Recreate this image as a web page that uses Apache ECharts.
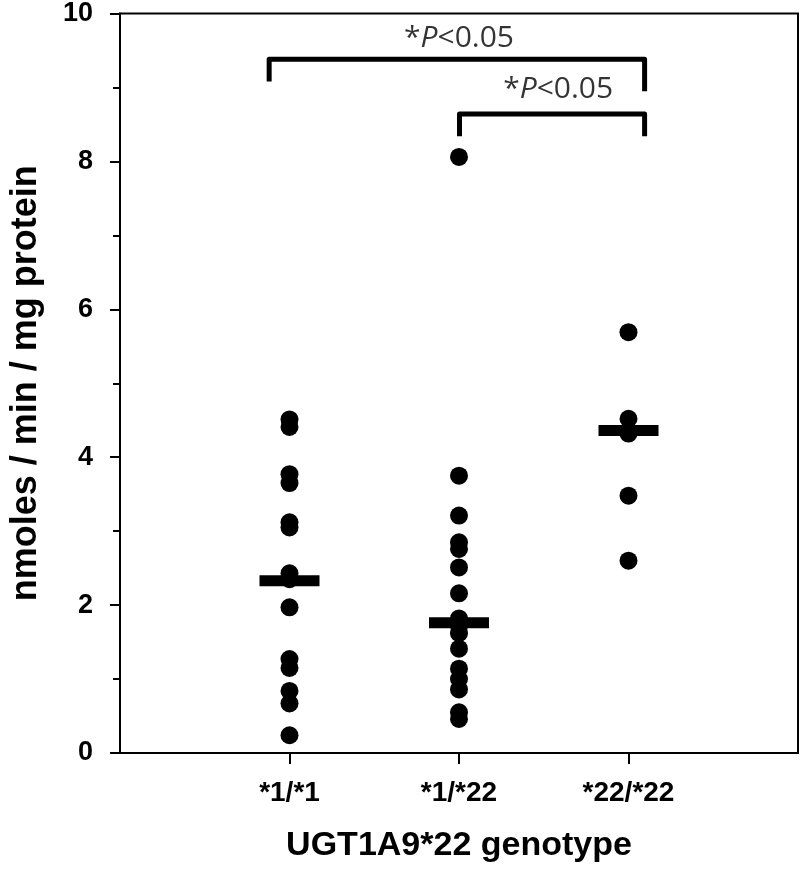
<!DOCTYPE html>
<html>
<head>
<meta charset="utf-8">
<script src="https://cdn.jsdelivr.net/npm/echarts@6/dist/echarts.min.js"></script>
<style>
  html, body { margin: 0; padding: 0; background: #fff; }
  #chart { width: 800px; height: 869px; }
</style>
</head>
<body>
<div id="chart"></div>
<script>
// genotype groups (x positions 1, 2, 3)
const genotypes = ['*1/*1', '*1/*22', '*22/*22'];

// individual activities, nmoles / min / mg protein
const wtValues = [4.51, 4.41, 3.77, 3.65, 3.12, 3.05, 2.43, 2.35, 1.97, 1.27, 1.15, 0.84, 0.67, 0.24];
const hetValues = [8.06, 3.75, 3.21, 2.85, 2.76, 2.51, 2.16, 1.82, 1.72, 1.62, 1.41, 1.14, 1.0, 0.86, 0.55, 0.46];
const homValues = [5.69, 4.52, 4.32, 3.48, 2.60];

// group medians (horizontal bars)
const medians = [2.33, 1.76, 4.36];

// significance brackets, in data units
const bracketOuter = [[0.88, 9.08], [0.88, 9.38], [3.095, 9.38], [3.095, 8.95]];
const bracketInner = [[2.003, 8.34], [2.003, 8.64], [3.095, 8.64], [3.095, 8.34]];
const sigLabels = [[2.0, 9.66], [2.585, 8.97]];

const axisFont = 'Liberation Sans, Arial, sans-serif';
const groups = [wtValues, hetValues, homValues];

const chart = echarts.init(document.getElementById('chart'));

const dotSeries = groups.map((vals, gi) => ({
    type: 'scatter',
    data: vals.map(v => [gi + 1, v]),
    symbol: 'circle',
    symbolSize: 18,
    itemStyle: { color: '#000', opacity: 1 },
    silent: true,
    z: 3
}));

const bracketStyle = {
    type: 'line',
    symbol: 'none',
    silent: true,
    lineStyle: { color: '#000', width: 5, join: 'round', cap: 'butt' },
    z: 4
};

const option = {
    backgroundColor: '#fff',
    animation: false,
    grid: {
        left: 117,
        right: 2,
        top: 11,
        bottom: 116,
        show: true,
        borderColor: '#000',
        borderWidth: 2,
        backgroundColor: 'transparent'
    },
    xAxis: {
        type: 'value',
        min: 0,
        max: 4,
        interval: 1,
        name: 'UGT1A9*22 genotype',
        nameLocation: 'middle',
        nameGap: 76,
        nameTextStyle: { color: '#000', fontSize: 34, fontWeight: 'bold', fontFamily: axisFont },
        axisLine: { lineStyle: { color: '#000', width: 2 } },
        axisTick: { show: true, customValues: [1, 2, 3], length: 11, lineStyle: { color: '#000', width: 2 } },
        axisLabel: {
            customValues: [1, 2, 3],
            formatter: v => genotypes[Math.round(v) - 1] || '',
            color: '#000',
            fontSize: 28,
            fontWeight: 'bold',
            fontFamily: axisFont,
            margin: 26
        },
        splitLine: { show: false }
    },
    yAxis: {
        type: 'value',
        min: 0,
        max: 10,
        interval: 2,
        name: 'nmoles / min / mg protein',
        nameLocation: 'middle',
        nameGap: 76,
        nameTextStyle: { color: '#000', fontSize: 36, fontWeight: 'bold', fontFamily: axisFont },
        axisLine: { show: true, lineStyle: { color: '#000', width: 2 } },
        axisTick: { show: true, length: 10, lineStyle: { color: '#000', width: 2 } },
        minorTick: { show: true, splitNumber: 2, length: 7, lineStyle: { color: '#000', width: 2 } },
        axisLabel: {
            color: '#000',
            fontSize: 27,
            fontWeight: 'bold',
            fontFamily: axisFont,
            margin: 27
        },
        splitLine: { show: false }
    },
    series: [
        ...dotSeries,
        {
            type: 'scatter',
            data: medians.map((m, i) => [i + 1, m]),
            symbol: 'rect',
            symbolSize: [60, 11],
            itemStyle: { color: '#000', opacity: 1 },
            silent: true,
            z: 5
        },
        Object.assign({ data: bracketOuter }, bracketStyle),
        Object.assign({ data: bracketInner }, bracketStyle),
        {
            type: 'scatter',
            data: sigLabels,
            symbolSize: 0,
            silent: true,
            label: {
                show: true,
                position: 'inside',
                formatter: '{a|*}{i|P}{a|<0.05}',
                rich: {
                    a: { color: '#000', fontSize: 30, fontFamily: 'Open Sans, sans-serif' },
                    i: { color: '#000', fontSize: 30, fontStyle: 'italic', fontFamily: 'Open Sans, sans-serif' }
                }
            },
            z: 6
        }
    ]
};

chart.setOption(option);
</script>
</body>
</html>
